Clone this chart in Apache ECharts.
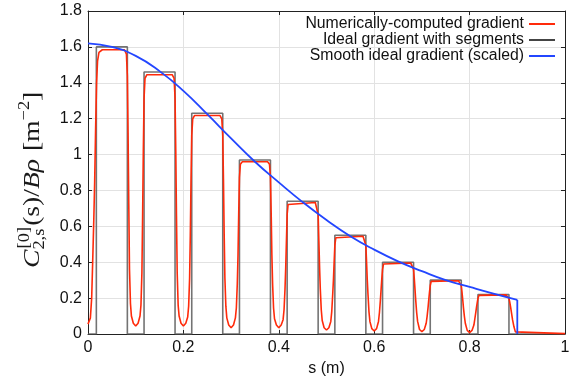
<!DOCTYPE html>
<html><head><meta charset="utf-8">
<script src="https://cdn.jsdelivr.net/npm/echarts@6/dist/echarts.min.js"></script>
<style>html,body{margin:0;padding:0;background:#fff}#c{width:575px;height:384px}</style>
</head><body><div id="c"></div>
<script>
// ---- data ----
const legendNames = ['Numerically-computed gradient', 'Ideal gradient with segments', 'Smooth ideal gradient (scaled)'];
const xTickStep = 0.2;
const yTickStep = 0.2;

// ideal segmented gradient: start, end, height of each segment
const segStart  = [0.0175, 0.1175, 0.2175, 0.3175, 0.4175, 0.5175, 0.6175, 0.7175, 0.8175];
const segEnd    = [0.0825, 0.1825, 0.2825, 0.3825, 0.4825, 0.5825, 0.6825, 0.7825, 0.8825];
const segHeight = [1.60, 1.46, 1.23, 0.97, 0.74, 0.55, 0.40, 0.30, 0.22];

// smooth ideal gradient (scaled)
const smoothX = [0, 0.05, 0.10, 0.15, 0.20, 0.25, 0.30, 0.35, 0.40, 0.45, 0.50, 0.55, 0.60, 0.65, 0.70, 0.75, 0.80, 0.85, 0.90];
const smoothY = [1.62, 1.60, 1.55, 1.465, 1.355, 1.225, 1.09, 0.96, 0.845, 0.735, 0.635, 0.545, 0.47, 0.405, 0.35, 0.30, 0.262, 0.225, 0.19];
const smoothEndX = 0.9;

// numerically-computed gradient [s, value]
const redCurve = [
 [0,0.055],[0.003,0.065],[0.005,0.09],[0.0077,0.2],[0.0098,0.4],[0.012,0.62],[0.014,0.85],[0.016,1.15],[0.018,1.4],[0.020,1.52],[0.023,1.57],[0.03,1.584],
 [0.0765,1.584],[0.0805,1.56],[0.0825,1.44],[0.084,1.12],[0.0855,0.72],[0.087,0.36],[0.089,0.17],[0.091,0.10],[0.095,0.06],[0.1,0.045],[0.105,0.06],[0.109,0.10],[0.111,0.16],[0.113,0.34],[0.1145,0.657],[0.116,1.022],[0.1175,1.314],[0.1195,1.424],[0.1235,1.445],
 [0.1765,1.445],[0.1805,1.424],[0.1825,1.314],[0.184,1.022],[0.1855,0.657],[0.187,0.34],[0.189,0.16],[0.191,0.10],[0.195,0.06],[0.2,0.045],[0.205,0.06],[0.209,0.095],[0.211,0.155],[0.213,0.31],[0.2145,0.554],[0.216,0.861],[0.2175,1.107],[0.2195,1.199],[0.2235,1.218],
 [0.2765,1.218],[0.2805,1.199],[0.2825,1.107],[0.284,0.861],[0.2855,0.554],[0.287,0.31],[0.289,0.155],[0.291,0.09],[0.295,0.05],[0.3,0.035],[0.305,0.05],[0.309,0.09],[0.311,0.145],[0.313,0.28],[0.3145,0.44],[0.316,0.679],[0.3175,0.873],[0.3195,0.946],[0.3235,0.96],
 [0.3765,0.96],[0.3805,0.946],[0.3825,0.873],[0.384,0.679],[0.3855,0.44],[0.387,0.28],[0.389,0.145],[0.391,0.085],[0.395,0.05],[0.4,0.035],[0.405,0.05],[0.409,0.08],[0.411,0.135],[0.413,0.25],[0.4145,0.37],[0.416,0.52],[0.4175,0.666],[0.4195,0.722],[0.4235,0.733],
 [0.4765,0.733],[0.4805,0.722],[0.4825,0.666],[0.484,0.52],[0.4855,0.37],[0.487,0.25],[0.489,0.135],[0.491,0.075],[0.495,0.035],[0.5,0.022],[0.505,0.035],[0.509,0.07],[0.511,0.125],[0.513,0.22],[0.5145,0.30],[0.516,0.40],[0.5175,0.495],[0.5195,0.536],[0.5235,0.545],
 [0.5765,0.545],[0.5805,0.536],[0.5825,0.495],[0.584,0.40],[0.5855,0.30],[0.587,0.22],[0.589,0.125],[0.591,0.07],[0.595,0.03],[0.6,0.017],[0.605,0.03],[0.609,0.07],[0.611,0.12],[0.613,0.19],[0.6145,0.25],[0.616,0.31],[0.6175,0.36],[0.6195,0.39],[0.6235,0.396],
 [0.6765,0.396],[0.6805,0.39],[0.6825,0.36],[0.684,0.31],[0.6855,0.25],[0.687,0.19],[0.689,0.12],[0.691,0.07],[0.695,0.025],[0.7,0.013],[0.705,0.025],[0.709,0.06],[0.711,0.10],[0.713,0.15],[0.7145,0.195],[0.716,0.235],[0.7175,0.27],[0.7195,0.293],[0.7235,0.297],
 [0.7765,0.297],[0.7805,0.293],[0.7825,0.27],[0.784,0.235],[0.7855,0.195],[0.787,0.15],[0.789,0.10],[0.791,0.06],[0.795,0.02],[0.8,0.008],[0.805,0.02],[0.809,0.05],[0.811,0.085],[0.813,0.12],[0.8145,0.15],[0.816,0.175],[0.8175,0.198],[0.8195,0.215],[0.8235,0.218],
 [0.8765,0.218],[0.8805,0.215],[0.8825,0.198],[0.884,0.18],[0.886,0.15],[0.888,0.115],[0.890,0.08],[0.893,0.04],[0.896,0.012],[0.9,0.002],[1.0,0.002]
];

// ---- build series data ----
const idealData = [[0, 0]];
segStart.forEach((s, i) => { idealData.push([s, segHeight[i]]); idealData.push([segEnd[i], 0]); });
idealData.push([1, 0]);
const smoothData = smoothX.map((x, i) => [x, smoothY[i]]);
const smoothDrop = [[smoothEndX, smoothY[smoothY.length - 1]], [smoothEndX, 0]];

const RED = '#ff2a0a', BLUE = '#2346ff', GRAY = '#5a5a5a';
const sans = '"Liberation Sans", Arial, Helvetica, sans-serif';
const serif = '"Liberation Serif", "DejaVu Serif", serif';

// ---- y axis label (LaTeX-like), laid out with canvas text metrics ----
function yLabel() {
  const ctx = document.createElement('canvas').getContext('2d');
  const big = 24, small = 16;
  const pieces = [
    {t: 'C', it: true, s: big, dy: 0},
    {t: '[0]', s: small, dy: -10, pad: 1},
    {t: '2,s', s: small, dy: 5, same: true, pad: -1},
    {t: '(s)/', s: big, dy: 0, pad: 1},
    {t: 'B\u03c1', it: true, s: big, dy: 0},
    {t: '\u2009[m', s: big, dy: 0, pad: 2},
    {t: '\u22122', s: small, dy: -10},
    {t: ']', s: big, dy: 0}
  ];
  const kids = [];
  let x = 0, prevStart = 0;
  pieces.forEach(p => {
    const font = (p.it ? 'italic ' : '') + p.s + 'px ' + serif;
    ctx.font = font;
    const w = ctx.measureText(p.t).width;
    let px;
    if (p.same) { px = prevStart + (p.pad || 0); x = Math.max(x, px + w); }
    else { px = x + (p.pad || 0); x = px + w; }
    prevStart = px;
    kids.push({type: 'text', x: px, y: p.dy + 0.22 * p.s,
      style: {text: p.t, font: font, fill: '#1a1a1a', verticalAlign: 'bottom', align: 'left'}});
  });
  return {type: 'group', x: 39, y: 268, rotation: Math.PI / 2, scaleX: 1.15, children: kids};
}

const axisCommon = {
  axisLine: {show: true, onZero: false, lineStyle: {color: '#222', width: 1}},
  axisTick: {show: true, inside: true, length: 4, lineStyle: {color: '#222'}}
};

const chart = echarts.init(document.getElementById('c'), null, {renderer: 'canvas'});
chart.setOption({
  animation: false,
  backgroundColor: '#fff',
  grid: {left: 88, right: 10, top: 11, bottom: 50, containLabel: false},
  xAxis: [
    Object.assign({type: 'value', min: 0, max: 1, interval: xTickStep, position: 'bottom',
      axisLabel: {fontSize: 16, color: '#111', fontFamily: sans, margin: 6},
      splitLine: {show: true, lineStyle: {color: '#e2e2e2', width: 1}},
      name: 's (m)', nameLocation: 'middle', nameGap: 25,
      nameTextStyle: {fontSize: 16, color: '#111', fontFamily: sans}}, axisCommon),
    Object.assign({type: 'value', min: 0, max: 1, interval: xTickStep, position: 'top',
      axisLabel: {show: false}, splitLine: {show: false}}, axisCommon)
  ],
  yAxis: [
    Object.assign({type: 'value', min: 0, max: 1.8, interval: yTickStep, position: 'left',
      axisLabel: {fontSize: 16, color: '#111', fontFamily: sans, margin: 6},
      splitLine: {show: true, lineStyle: {color: '#e2e2e2', width: 1}}}, axisCommon),
    Object.assign({type: 'value', min: 0, max: 1.8, interval: yTickStep, position: 'right',
      axisLabel: {show: false}, splitLine: {show: false}}, axisCommon)
  ],
  legend: {
    orient: 'vertical', right: 20, top: 16, align: 'right', padding: 0,
    icon: 'rect', itemWidth: 26, itemHeight: 2, itemGap: 0, selectedMode: false,
    data: legendNames,
    textStyle: {fontSize: 15.8, fontFamily: sans, color: '#111', lineHeight: 11}
  },
  graphic: [yLabel()],
  series: [
    {name: legendNames[0], type: 'line', data: redCurve, symbol: 'none', z: 3,
      lineStyle: {color: RED, width: 1.6}, itemStyle: {color: RED}},
    {name: legendNames[1], type: 'line', data: idealData, step: 'end', symbol: 'none', z: 2,
      lineStyle: {color: GRAY, width: 1.6, opacity: 0.85}, itemStyle: {color: '#444'}},
    {name: legendNames[2], type: 'line', data: smoothData, smooth: true, symbol: 'none', z: 4,
      lineStyle: {color: BLUE, width: 1.8}, itemStyle: {color: BLUE}},
    {name: legendNames[2], type: 'line', data: smoothDrop, symbol: 'none', z: 4,
      lineStyle: {color: BLUE, width: 1.8}, itemStyle: {color: BLUE}}
  ]
});
</script></body></html>
